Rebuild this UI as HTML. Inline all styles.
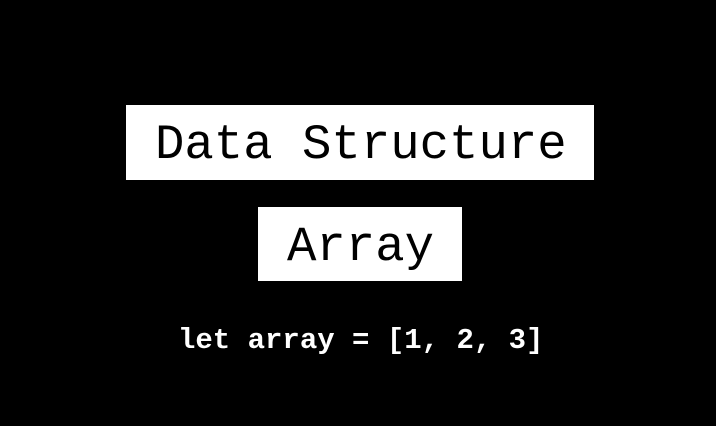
<!DOCTYPE html>
<html><head><style>
html,body{margin:0;padding:0;background:#000;width:716px;height:426px;overflow:hidden;position:relative;font-family:"Liberation Mono",monospace;}
.box{position:absolute;background:#fff;color:#000;}
.t{position:absolute;white-space:pre;line-height:1;}
</style></head><body>
<div class="box" style="left:126px;top:105px;width:468px;height:75px;"></div>
<div class="box" style="left:258px;top:207px;width:204px;height:74px;"></div>
<div class="t" style="left:155px;top:121px;font-size:49px;color:#000;">Data Structure</div>
<div class="t" style="left:287px;top:223px;font-size:49px;color:#000;">Array</div>
<div class="t" style="left:178px;top:326px;font-size:29px;color:#fff;font-weight:bold;">let array = [1, 2, 3]</div>
</body></html>
